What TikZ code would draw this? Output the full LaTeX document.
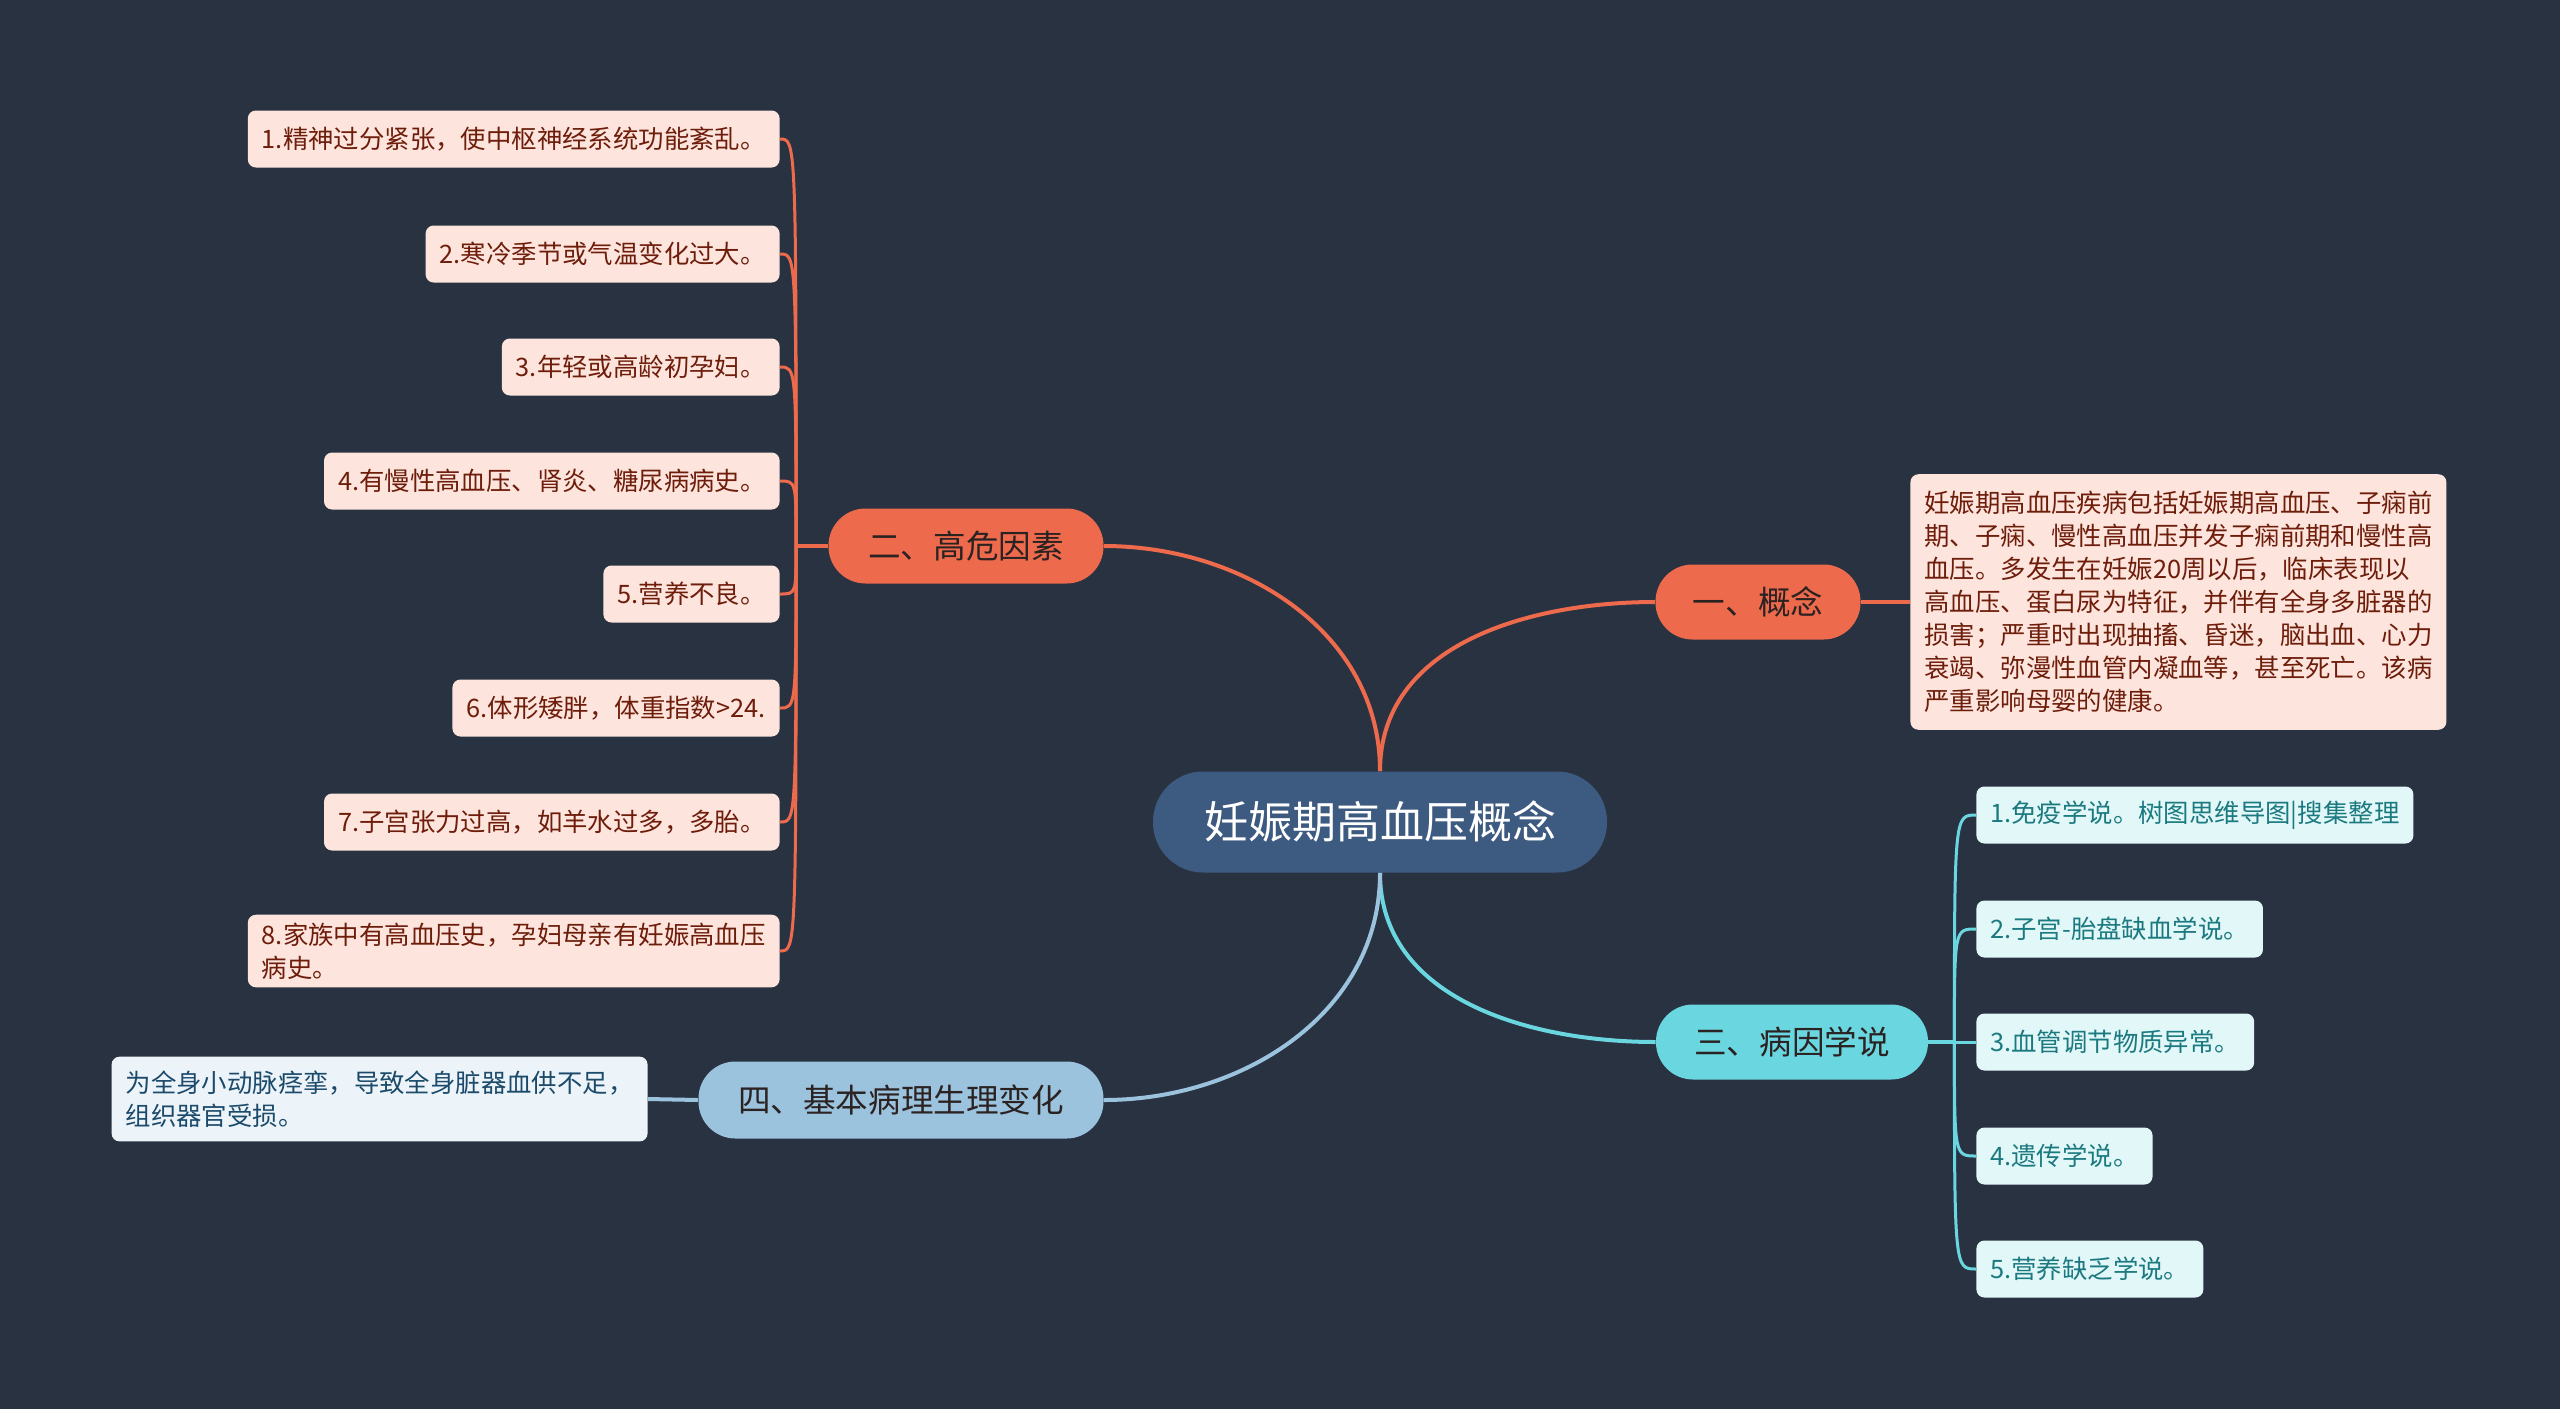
\documentclass[tikz,border=0pt]{standalone}
\usepackage{fontspec}
\setmainfont{Noto Sans CJK SC}
\definecolor{bgnavy}{HTML}{293241}
\definecolor{rootblue}{HTML}{3D5A80}
\definecolor{riskfill}{HTML}{EE6A4C}
\definecolor{riskpale}{HTML}{FDE5DD}
\definecolor{riskink}{HTML}{6E1D0B}
\definecolor{causefill}{HTML}{6AD6E0}
\definecolor{causepale}{HTML}{E2F7F8}
\definecolor{causeink}{HTML}{1B7A80}
\definecolor{pathofill}{HTML}{9CC3DE}
\definecolor{pathopale}{HTML}{EDF4F9}
\definecolor{pathoink}{HTML}{1B4A6B}
\definecolor{branchink}{HTML}{2B2222}

\begin{document}
\begin{tikzpicture}[x=0.5pt, y=-0.5pt,
    root/.style={fill=rootblue, text=white, rounded corners=25pt,
      minimum width=227pt, minimum height=50.5pt,
      font=\fontsize{22}{26}\selectfont},
    branch/.style={text=branchink, rounded corners=18.5pt,
      minimum height=37.5pt, font=\fontsize{16.3}{20}\selectfont},
    leaf/.style={rounded corners=4pt, inner xsep=7pt, inner ysep=4pt,
      minimum height=28.5pt, align=left, font=\fontsize{12.7}{16.5}\selectfont},
    riskleaf/.style={leaf, fill=riskpale, text=riskink},
    causeleaf/.style={leaf, fill=causepale, text=causeink},
    patholeaf/.style={leaf, fill=pathopale, text=pathoink},
    riskline/.style={draw=riskfill, line width=2pt},
    causeline/.style={draw=causefill, line width=2pt},
    patholine/.style={draw=pathofill, line width=2pt}
  ]
  \fill[bgnavy] (0,0) rectangle (2560,1409);

  % centre and main branches
  \node[root] (root) at (1380,822) {妊娠期高血压概念};
  \node[branch, fill=riskfill, minimum width=102.5pt] (idea) at (1758,602) {一、概念};
  \node[branch, fill=riskfill, minimum width=137.5pt] (risk) at (966,546) {二、高危因素};
  \node[branch, fill=causefill, minimum width=136pt] (cause) at (1792,1042) {三、病因学说};
  \node[branch, fill=pathofill, minimum width=202.5pt, minimum height=38.5pt] (patho) at (901,1100) {四、基本病理生理变化};

  \draw[riskline] (root.north) to[out=90, in=0] (risk.east);
  \draw[riskline] (root.north) to[out=90, in=180] (idea.west);
  \draw[causeline] (root.south) to[out=-90, in=180] (cause.west);
  \draw[patholine] (root.south) to[out=-90, in=0] (patho.east);

  % 一
  \node[riskleaf, anchor=west, inner ysep=8.5pt] (note) at (1910,602)
    {妊娠期高血压疾病包括妊娠期高血压、子痫前\\
     期、子痫、慢性高血压并发子痫前期和慢性高\\
     血压。多发生在妊娠20周以后，临床表现以\\
     高血压、蛋白尿为特征，并伴有全身多脏器的\\
     损害；严重时出现抽搐、昏迷，脑出血、心力\\
     衰竭、弥漫性血管内凝血等，甚至死亡。该病\\
     严重影响母婴的健康。};
  \draw[riskline] (idea.east) -- (note.west);

  % 二
  \foreach \n/\y/\t in {1/139/{1.精神过分紧张，使中枢神经系统功能紊乱。},
      2/254/{2.寒冷季节或气温变化过大。},
      3/367/{3.年轻或高龄初孕妇。},
      4/481/{4.有慢性高血压、肾炎、糖尿病病史。},
      5/594/{5.营养不良。},
      6/708/{6.体形矮胖，体重指数>24.},
      7/822/{7.子宫张力过高，如羊水过多，多胎。},
      8/951/{8.家族中有高血压史，孕妇母亲有妊娠高血压\\病史。}}
    \node[riskleaf, anchor=east, minimum height=28.5pt] (r\n) at (780,\y) {\t};
  \coordinate (rj) at ([xshift=-16pt]risk.west);
  \draw[riskline] (risk.west) -- (rj);
  \foreach \n in {1,...,8}
    \draw[riskline, line width=1.5pt] (rj) .. controls (rj |- r\n.east) .. (r\n.east);

  % 三
  \foreach \n/\y/\t in {1/815/{1.免疫学说。树图思维导图|搜集整理},
      2/929/{2.子宫-胎盘缺血学说。},
      3/1042/{3.血管调节物质异常。},
      4/1156/{4.遗传学说。},
      5/1269/{5.营养缺乏学说。}}
    \node[causeleaf, anchor=west] (c\n) at (1976,\y) {\t};
  \coordinate (cj) at ([xshift=13pt]cause.east);
  \draw[causeline] (cause.east) -- (cj);
  \foreach \n in {1,...,5}
    \draw[causeline, line width=1.5pt] (cj) .. controls (cj |- c\n.west) .. (c\n.west);

  % 四
  \node[patholeaf, anchor=east, inner ysep=7pt] (effect) at (648,1099)
    {为全身小动脉痉挛，导致全身脏器血供不足，\\组织器官受损。};
  \draw[patholine] (patho.west) -- (effect.east);
\end{tikzpicture}
\end{document}
